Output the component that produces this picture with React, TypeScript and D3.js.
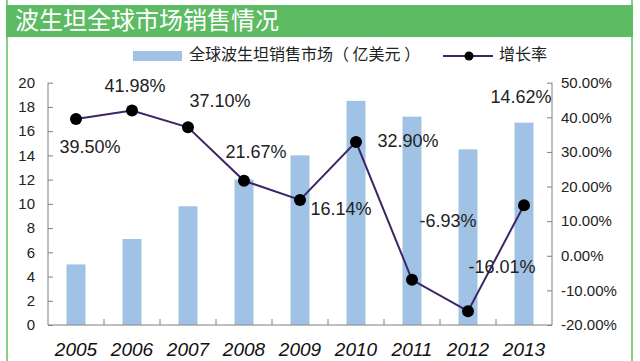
import React, { useEffect, useRef } from "react";
import * as d3 from "d3";

// chart data
const years = ["2005", "2006", "2007", "2008", "2009", "2010", "2011", "2012", "2013"];
const sales = [5.0, 7.1, 9.8, 12.0, 14.0, 18.5, 17.2, 14.5, 16.7]; // 亿美元
const growth = [39.5, 41.98, 37.1, 21.67, 16.14, 32.9, -6.93, -16.01, 14.62]; // %
const leftTicks = [0, 2, 4, 6, 8, 10, 12, 14, 16, 18, 20];
const rightTicks = [-20, -10, 0, 10, 20, 30, 40, 50];

// where each growth label sits relative to its point
const labelOffsets: [number, number][] = [
  [14, 29], [3, -23], [32, -25], [12, -28], [41, 10], [52, 0], [36, -58], [34, -43], [-3, -107],
];

const W = 640;
const H = 361;
const GREEN = "#5dbb63";
const BAR = "#9fc2e5";
const LINE = "#3e2566";
const CN = "'Noto Sans CJK SC', 'Noto Sans', sans-serif";
const NUM = "'Liberation Sans', Arial, sans-serif";

const App = () => {
  const ref = useRef<SVGSVGElement>(null);

  useEffect(() => {
    document.body.style.margin = "0";
    const svg = d3.select(ref.current);
    svg.selectAll("*").remove();

    // frame + title bar
    svg.append("rect").attr("width", W).attr("height", H).attr("fill", "#fff");
    svg.append("line").attr("x1", 7).attr("x2", 7).attr("y1", 0).attr("y2", H)
      .attr("stroke", "#86cf88").attr("stroke-width", 2);
    svg.append("line").attr("x1", 632).attr("x2", 632).attr("y1", 0).attr("y2", H)
      .attr("stroke", "#86cf88").attr("stroke-width", 2);
    svg.append("rect").attr("x", 6).attr("y", 5).attr("width", 627).attr("height", 32).attr("fill", GREEN);
    svg.append("text").attr("x", 15).attr("y", 22).attr("dominant-baseline", "middle")
      .attr("fill", "#fff").attr("font-family", CN).attr("font-size", 24)
      .text("波生坦全球市场销售情况");

    const x0 = 48, x1 = 552, yTop = 82.7, yBot = 325;

    const x = d3.scaleBand().domain(years).range([x0, x1]);
    const yL = d3.scaleLinear().domain([0, 20]).range([yBot, yTop]);
    const yR = d3.scaleLinear().domain([-20, 50]).range([yBot, yTop]);

    // bars
    svg.selectAll("rect.bar")
      .data(sales)
      .enter()
      .append("rect")
      .attr("class", "bar")
      .attr("x", (d, i) => x(years[i])! + x.bandwidth() / 2 - 9.5)
      .attr("y", d => yL(d))
      .attr("width", 19)
      .attr("height", d => yBot - yL(d))
      .attr("fill", BAR);

    // axes
    const axisColor = "#808080";
    const left = svg.append("g").attr("transform", `translate(${x0},0)`)
      .call(d3.axisRight(yL).tickValues(leftTicks).tickSize(5).tickFormat(d => `${d}`));
    left.selectAll("text").attr("x", -13).attr("text-anchor", "end");

    const right = svg.append("g").attr("transform", `translate(${x1},0)`)
      .call(d3.axisLeft(yR).tickValues(rightTicks).tickSize(5).tickFormat(d => `${(+d).toFixed(2)}%`));
    right.selectAll("text").attr("x", 9).attr("text-anchor", "start");

    const bottom = svg.append("g").attr("transform", `translate(0,${yBot})`)
      .call(d3.axisTop(x).tickSize(0).tickFormat(d => d));
    bottom.selectAll("text").attr("y", 18).attr("dy", "0.71em")
      .attr("font-style", "italic").attr("font-size", 19).attr("fill", "#111");
    // x ticks between categories
    bottom.selectAll("line.sep")
      .data(years.slice(1))
      .enter()
      .append("line")
      .attr("class", "sep")
      .attr("x1", d => x(d)!)
      .attr("x2", d => x(d)!)
      .attr("y1", 0)
      .attr("y2", -6)
      .attr("stroke", axisColor);

    [left, right].forEach(g => {
      g.selectAll("text").attr("font-size", 15).attr("fill", "#222");
    });
    [left, right, bottom].forEach(g => {
      g.attr("font-family", NUM);
      g.select(".domain").attr("stroke", axisColor).attr("d", null);
      g.selectAll(".tick line").attr("stroke", axisColor);
    });
    left.select(".domain").attr("d", `M0,${yTop}V${yBot}`);
    right.select(".domain").attr("d", `M0,${yTop}V${yBot}`);
    bottom.select(".domain").attr("d", `M${x0},0H${x1}`);

    // growth line
    const cx = (i: number) => x(years[i])! + x.bandwidth() / 2;
    const line = d3.line<number>().x((d, i) => cx(i)).y(d => yR(d));
    svg.append("path").datum(growth).attr("d", line)
      .attr("fill", "none").attr("stroke", LINE).attr("stroke-width", 2);
    svg.selectAll("circle.pt")
      .data(growth)
      .enter()
      .append("circle")
      .attr("class", "pt")
      .attr("cx", (d, i) => cx(i))
      .attr("cy", d => yR(d))
      .attr("r", 6)
      .attr("fill", "#000");

    svg.selectAll("text.lbl")
      .data(growth)
      .enter()
      .append("text")
      .attr("class", "lbl")
      .attr("x", (d, i) => cx(i) + labelOffsets[i][0])
      .attr("y", (d, i) => yR(d) + labelOffsets[i][1])
      .attr("text-anchor", "middle")
      .attr("dominant-baseline", "middle")
      .attr("font-family", NUM)
      .attr("font-size", 18)
      .attr("fill", "#222")
      .text(d => `${d.toFixed(2)}%`);

    // legend
    const lg = svg.append("g").attr("transform", "translate(0,56)");
    lg.append("rect").attr("x", 133).attr("y", -5).attr("width", 49).attr("height", 10).attr("fill", BAR);
    lg.append("text").attr("x", 189).attr("y", 0).attr("dominant-baseline", "middle")
      .attr("font-family", CN).attr("font-size", 16).attr("fill", "#222")
      .text("全球波生坦销售市场（ 亿美元 ）");
    lg.append("line").attr("x1", 443).attr("x2", 493).attr("y1", 0).attr("y2", 0)
      .attr("stroke", LINE).attr("stroke-width", 2);
    lg.append("circle").attr("cx", 469).attr("cy", 0).attr("r", 4.5).attr("fill", "#000");
    lg.append("text").attr("x", 499).attr("y", 0).attr("dominant-baseline", "middle")
      .attr("font-family", CN).attr("font-size", 16).attr("fill", "#222")
      .text("增长率");
  }, []);

  return <svg ref={ref} width={W} height={H} style={{ display: "block" }} />;
};

export default App;
